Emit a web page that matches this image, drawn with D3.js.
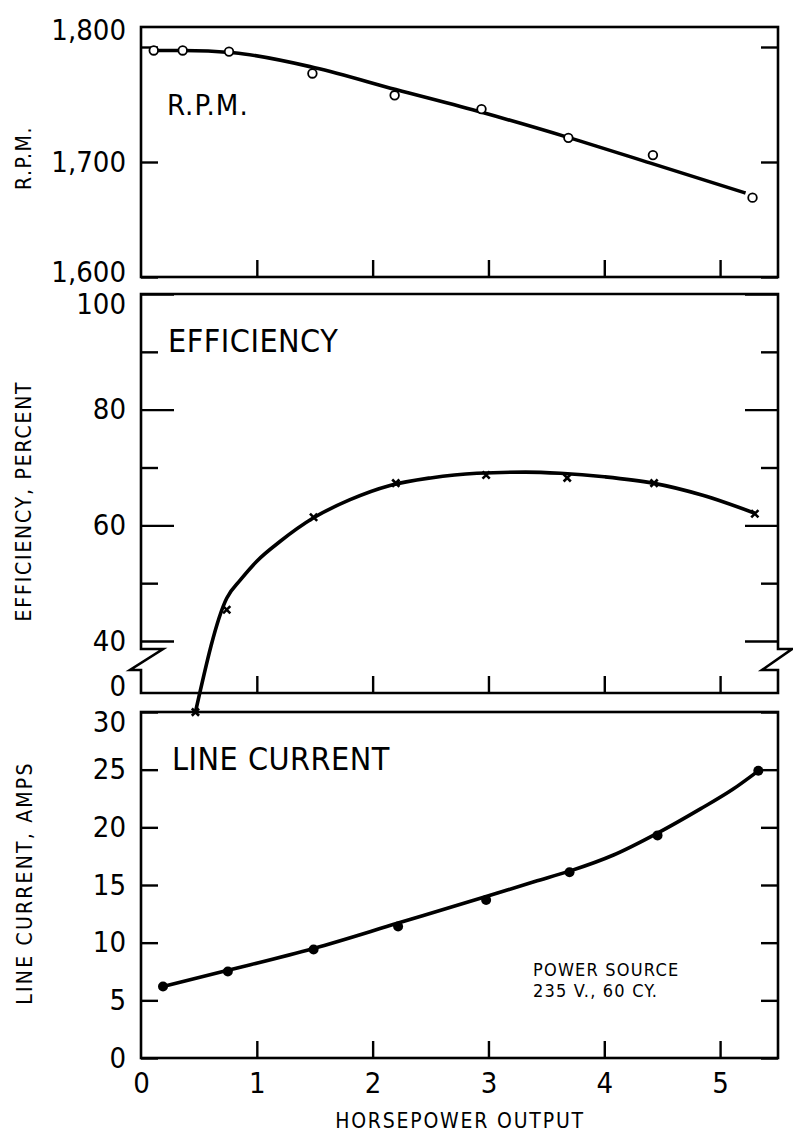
<!DOCTYPE html>
<html>
<head>
<meta charset="utf-8">
<script src="https://cdn.jsdelivr.net/npm/d3@7"></script>
<style>
  html, body { margin: 0; padding: 0; background: #fff; }
  svg { display: block; }
  text { font-family: "DejaVu Sans Condensed", "Liberation Sans Narrow", "DejaVu Sans", sans-serif; font-stretch: condensed; fill: #000; }
</style>
</head>
<body>
<svg id="chart" width="793" height="1135"></svg>
<script>
// Motor performance test: speed, efficiency and line current against horsepower output.

// Horsepower axis
const hpTicks = [0, 1, 2, 3, 4, 5];

// R.P.M. — test points and the faired curve
const rpmHp   = [0.11, 0.36, 0.76, 1.48, 2.19, 2.94, 3.69, 4.42, 5.28];
const rpmVals = [1797, 1797, 1796, 1777, 1758, 1746, 1721, 1706, 1669];
const rpmFitHp   = [0.11, 0.36, 0.8, 1.5, 2.2, 2.95, 3.7, 4.4, 5.22];
const rpmFitVals = [1797, 1797, 1795, 1782, 1763, 1743, 1721, 1699, 1673];
const rpmTicks = [1600, 1700, 1800];

// Efficiency, percent
const effHp   = [0.47, 0.74, 1.49, 2.20, 2.98, 3.68, 4.43, 5.30];
const effVals = [27.7, 45.4, 61.4, 67.3, 68.7, 68.2, 67.3, 62.0];
const effFitHp   = [0.47, 0.74, 0.86, 1.0, 1.2, 1.49, 1.8, 2.15, 2.5, 2.9, 3.32, 3.62, 4.0, 4.42, 4.85, 5.3];
const effFitVals = [27.7, 47.4, 50.6, 53.8, 57.2, 61.3, 64.4, 66.9, 68.2, 69.0, 69.2, 69.0, 68.4, 67.3, 65.2, 62.1];
const effMajor = [40, 60, 80, 100];
const effMinor = [50, 70, 90];

// Line current, amps
const ampHp   = [0.19, 0.75, 1.49, 2.22, 2.98, 3.70, 4.46, 5.33];
const ampVals = [6.2, 7.5, 9.4, 11.4, 13.7, 16.1, 19.3, 24.9];
const ampFitHp   = [0.19, 0.75, 1.49, 2.22, 2.98, 3.40, 3.70, 4.08, 4.46, 4.83, 5.11, 5.33];
const ampFitVals = [6.2, 7.6, 9.5, 11.7, 14.0, 15.3, 16.2, 17.6, 19.5, 21.6, 23.3, 24.9];
const ampTicks = [0, 5, 10, 15, 20, 25, 30];

const svg = d3.select("#chart");

const left = 141, right = 778;
const x = d3.scaleLinear().domain([0, 5.5]).range([left, right]);

const panelRpm = { top: 27, bottom: 277 };
const panelEff = { top: 294, bottom: 693 };
const panelAmp = { top: 712, bottom: 1058 };

const yRpm = d3.scaleLinear().domain([1600, 1800]).range([277, 47]);
const yEff = d3.scaleLinear().domain([40, 100]).range([641, 294]);
const yAmp = d3.scaleLinear().domain([0, 30]).range([1058, 712]);

const FRAME_W = 2.6, TICK_W = 2.4, LINE_W = 3.6;
const TICK_FONT = 29;

function styleAxis(g) {
  g.select(".domain").remove();
  g.selectAll(".tick line").attr("stroke", "#000").attr("stroke-width", TICK_W);
  g.selectAll(".tick text").attr("font-size", TICK_FONT).attr("fill", "#000");
}

// y axis ticks on both sides, pointing inward
function yTicks(scale, values, len, withLabels, fmt, labelShift) {
  const gl = svg.append("g").attr("transform", `translate(${left},0)`)
    .call(d3.axisLeft(scale).tickValues(values).tickSize(-len).tickPadding(15)
      .tickFormat(withLabels ? fmt : () => ""));
  styleAxis(gl);
  if (withLabels && labelShift) {
    gl.selectAll(".tick text").attr("transform", d => labelShift[d] ? `translate(0,${labelShift[d]})` : null);
  }
  const gr = svg.append("g").attr("transform", `translate(${right},0)`)
    .call(d3.axisRight(scale).tickValues(values).tickSize(-len).tickFormat(() => ""));
  styleAxis(gr);
  return gl;
}

function xTicks(panel, withLabels) {
  const g = svg.append("g").attr("transform", `translate(0,${panel.bottom})`)
    .call(d3.axisBottom(x).tickValues(withLabels ? hpTicks : hpTicks.slice(1))
      .tickSize(-17).tickPadding(14).tickFormat(withLabels ? d3.format("d") : () => ""));
  styleAxis(g);
  g.selectAll(".tick").filter(d => d === 0).select("line").remove();
}

// ---------- frames ----------
svg.append("rect").attr("x", left).attr("y", panelRpm.top)
  .attr("width", right - left).attr("height", panelRpm.bottom - panelRpm.top)
  .attr("fill", "none").attr("stroke", "#000").attr("stroke-width", FRAME_W);

// efficiency frame with broken-axis zigzags on both sides
const bTop = yEff(40) + 8, bBot = bTop + 21;
const effFrame = d3.path();
effFrame.moveTo(left, panelEff.top);
effFrame.lineTo(right, panelEff.top);
effFrame.lineTo(right, bTop);
effFrame.lineTo(right + 14, bTop);
effFrame.lineTo(right - 16, bBot);
effFrame.lineTo(right, bBot);
effFrame.lineTo(right, panelEff.bottom);
effFrame.lineTo(left, panelEff.bottom);
effFrame.lineTo(left, bBot);
effFrame.lineTo(left - 11, bBot);
effFrame.lineTo(left + 22, bTop);
effFrame.lineTo(left, bTop);
effFrame.closePath();
svg.append("path").attr("d", effFrame.toString())
  .attr("fill", "none").attr("stroke", "#000").attr("stroke-width", FRAME_W)
  .attr("stroke-linejoin", "miter");

svg.append("rect").attr("x", left).attr("y", panelAmp.top)
  .attr("width", right - left).attr("height", panelAmp.bottom - panelAmp.top)
  .attr("fill", "none").attr("stroke", "#000").attr("stroke-width", FRAME_W);

// ---------- ticks and tick labels ----------
const commaFmt = d3.format(",");
yTicks(yRpm, rpmTicks, 17, true, commaFmt, { 1800: -17, 1600: -5 });
yTicks(yEff, effMajor, 33, true, d3.format("d"), { 100: 10 });
yTicks(yEff, effMinor, 17, false);
yTicks(yAmp, ampTicks, 17, true, d3.format("d"), { 30: 10 });

// "0" at the foot of the broken efficiency axis
svg.append("text").attr("x", left - 15).attr("y", panelEff.bottom - 6)
  .attr("dy", "0.32em").attr("text-anchor", "end").attr("font-size", TICK_FONT).text("0");

xTicks(panelRpm, false);
xTicks(panelEff, false);
xTicks(panelAmp, true);

// ---------- curves ----------
const line = (xs, ys, yScale) => d3.line()
  .x((d, i) => x(xs[i])).y((d, i) => yScale(ys[i]))
  .curve(d3.curveMonotoneX)(ys);

svg.append("path").attr("d", line(rpmFitHp, rpmFitVals, yRpm))
  .attr("fill", "none").attr("stroke", "#000").attr("stroke-width", LINE_W);
svg.append("path").attr("d", line(effFitHp, effFitVals, yEff))
  .attr("fill", "none").attr("stroke", "#000").attr("stroke-width", LINE_W);
svg.append("path").attr("d", line(ampFitHp, ampFitVals, yAmp))
  .attr("fill", "none").attr("stroke", "#000").attr("stroke-width", LINE_W);

// ---------- markers ----------
svg.append("g").selectAll("circle").data(rpmVals).join("circle")
  .attr("cx", (d, i) => x(rpmHp[i])).attr("cy", d => yRpm(d)).attr("r", 4.3)
  .attr("fill", "#fff").attr("stroke", "#000").attr("stroke-width", 1.8);

const xs = 3.6;
svg.append("g").selectAll("path").data(effVals).join("path")
  .attr("d", (d, i) => {
    const cx = x(effHp[i]), cy = yEff(d);
    return `M${cx - xs},${cy - xs}L${cx + xs},${cy + xs}M${cx - xs},${cy + xs}L${cx + xs},${cy - xs}`;
  })
  .attr("stroke", "#000").attr("stroke-width", 2.6).attr("fill", "none");

svg.append("g").selectAll("circle").data(ampVals).join("circle")
  .attr("cx", (d, i) => x(ampHp[i])).attr("cy", d => yAmp(d)).attr("r", 5)
  .attr("fill", "#000");

// ---------- titles ----------
svg.append("text").attr("x", 167).attr("y", 115).attr("font-size", 29)
  .attr("letter-spacing", 1).text("R.P.M.");
svg.append("text").attr("x", 168).attr("y", 352).attr("font-size", 32)
  .attr("letter-spacing", 0.5).text("EFFICIENCY");
svg.append("text").attr("x", 172).attr("y", 770).attr("font-size", 32)
  .attr("letter-spacing", 0.5).text("LINE CURRENT");

function yTitle(text, cx, cy, spacing) {
  svg.append("text").attr("transform", `translate(${cx},${cy}) rotate(-90)`)
    .attr("text-anchor", "middle").attr("dy", "0.36em")
    .attr("font-size", 21).attr("letter-spacing", spacing).text(text);
}
yTitle("R.P.M.", 23, 158, 1.5);
yTitle("EFFICIENCY, PERCENT", 23, 501, 1.8);
yTitle("LINE CURRENT, AMPS", 24, 883, 2.2);

svg.append("text").attr("x", 460).attr("y", 1128).attr("text-anchor", "middle")
  .attr("font-size", 21).attr("letter-spacing", 1.8).text("HORSEPOWER OUTPUT");

svg.append("text").attr("x", 533).attr("y", 976)
  .attr("font-size", 18).attr("letter-spacing", 1.2).text("POWER SOURCE");
svg.append("text").attr("x", 533).attr("y", 997)
  .attr("font-size", 18).attr("letter-spacing", 1.2).text("235 V., 60 CY.");
</script>
</body>
</html>
